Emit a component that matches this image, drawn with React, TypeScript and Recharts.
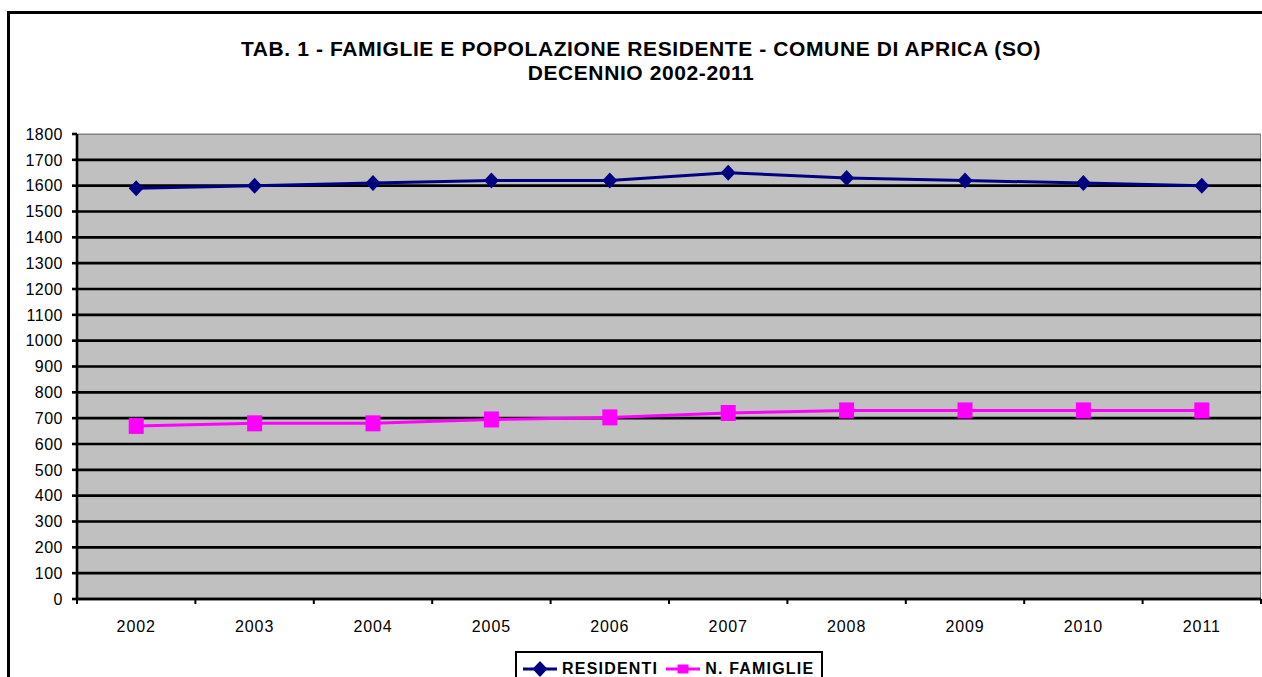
import { LineChart, Line, XAxis, YAxis, CartesianGrid } from "recharts";

// Data
const years = ["2002", "2003", "2004", "2005", "2006", "2007", "2008", "2009", "2010", "2011"];
const residenti = [1590, 1600, 1610, 1620, 1620, 1650, 1630, 1620, 1610, 1600];
const famiglie = [670, 680, 680, 695, 703, 720, 730, 730, 730, 730];
const yTicks = [0, 100, 200, 300, 400, 500, 600, 700, 800, 900, 1000, 1100, 1200, 1300, 1400, 1500, 1600, 1700, 1800];

const titleLines = [
  "TAB. 1 - FAMIGLIE E POPOLAZIONE RESIDENTE - COMUNE DI APRICA (SO)",
  "DECENNIO 2002-2011",
];

const series = [
  { key: "residenti", name: "RESIDENTI", color: "#000080", width: 3, marker: "diamond" },
  { key: "famiglie", name: "N. FAMIGLIE", color: "#FF00FF", width: 3, marker: "square" },
];

const data = years.map((year, i) => ({
  year,
  residenti: residenti[i],
  famiglie: famiglie[i],
}));

// layout
const CHART_W = 1262;
const CHART_H = 677;
const PLOT_LEFT = 77;
const PLOT_RIGHT = 1261;
const PLOT_TOP = 134;
const PLOT_BOTTOM = 599;
const BAND_W = (PLOT_RIGHT - PLOT_LEFT) / years.length;
const FONT = "'Liberation Sans', Arial, sans-serif";

const Diamond = (props: any) => {
  const { cx, cy, fill } = props;
  if (cx == null || cy == null) return null;
  return (
    <path
      d={`M${cx},${cy - 8} L${cx + 7.5},${cy} L${cx},${cy + 8} L${cx - 7.5},${cy} Z`}
      fill={fill}
    />
  );
};

const Square = (props: any) => {
  const { cx, cy, fill } = props;
  if (cx == null || cy == null) return null;
  return <rect x={cx - 7.5} y={cy - 8} width={15} height={16} fill={fill} />;
};

const XTick = (props: any) => {
  const { x, payload, index } = props;
  const half = BAND_W / 2;
  return (
    <g>
      <line x1={x - half} x2={x - half} y1={PLOT_BOTTOM} y2={PLOT_BOTTOM + 5} stroke="#000" strokeWidth={2} />
      {index === years.length - 1 && (
        <line x1={x + half} x2={x + half} y1={PLOT_BOTTOM} y2={PLOT_BOTTOM + 5} stroke="#000" strokeWidth={2} />
      )}
      <text
        x={x}
        y={632}
        textAnchor="middle"
        fill="#000"
        fontSize={16}
        fontFamily={FONT}
        letterSpacing={0.9}
      >
        {payload.value}
      </text>
    </g>
  );
};

const gridLine = (p: any) => {
  const top = p.y1 <= PLOT_TOP + 1;
  return (
    <line
      key={p.key}
      x1={p.x1}
      x2={p.x2}
      y1={p.y1}
      y2={p.y2}
      stroke={top ? "#808080" : "#000"}
      strokeWidth={top ? 1 : 2.6}
    />
  );
};

function LegendIcon({ color, marker }: { color: string; marker: string }) {
  return (
    <svg width={34} height={16} style={{ display: "block" }}>
      <line x1={0} x2={34} y1={8} y2={8} stroke={color} strokeWidth={3} />
      {marker === "diamond" ? (
        <path d="M17,0 L24.5,8 L17,16 L9.5,8 Z" fill={color} />
      ) : (
        <rect x={11.5} y={3.5} width={11} height={9} fill={color} />
      )}
    </svg>
  );
}

export default function App() {
  return (
    <div style={{ position: "absolute", left: 0, top: 0, width: CHART_W, height: CHART_H, overflow: "hidden", background: "#fff" }}>
      {/* outer frame */}
      <div
        style={{
          position: "absolute",
          left: 7,
          top: 11,
          width: 1300,
          height: 700,
          border: "3px solid #000",
          boxSizing: "border-box",
        }}
      />
      {/* title */}
      <div
        style={{
          position: "absolute",
          left: 0,
          top: 37,
          width: 1282,
          textAlign: "center",
          fontFamily: FONT,
          fontWeight: "bold",
          fontSize: 21,
          letterSpacing: 0.6,
          lineHeight: "24px",
          color: "#000",
        }}
      >
        {titleLines.map((t) => (
          <div key={t}>{t}</div>
        ))}
      </div>
      {/* plot background */}
      <div
        style={{
          position: "absolute",
          left: PLOT_LEFT,
          top: PLOT_TOP,
          width: PLOT_RIGHT - PLOT_LEFT,
          height: PLOT_BOTTOM - PLOT_TOP,
          background: "#C0C0C0",
          borderTop: "1px solid #808080",
          borderRight: "1px solid #808080",
          boxSizing: "border-box",
        }}
      />
      <div style={{ position: "absolute", left: 0, top: 0 }}>
        <LineChart
          width={CHART_W}
          height={CHART_H}
          data={data}
          margin={{ top: PLOT_TOP, right: CHART_W - PLOT_RIGHT, left: 0, bottom: CHART_H - PLOT_BOTTOM - 30 }}
        >
          <CartesianGrid vertical={false} horizontal={gridLine} stroke="#000" strokeWidth={2} />
          <XAxis
            dataKey="year"
            scale="band"
            interval={0}
            height={30}
            tickLine={false}
            axisLine={{ stroke: "#000", strokeWidth: 2.6 }}
            tick={<XTick />}
          />
          <YAxis
            width={PLOT_LEFT}
            domain={[0, 1800]}
            ticks={yTicks}
            interval={0}
            tickSize={5}
            tickMargin={9}
            axisLine={{ stroke: "#000", strokeWidth: 2.6 }}
            tickLine={{ stroke: "#000", strokeWidth: 2.6 }}
            tick={{ fill: "#000", fontSize: 16, fontFamily: FONT, letterSpacing: 0.5 }}
          />
          {series.map((s) => (
            <Line
              key={s.key}
              dataKey={s.key}
              name={s.name}
              type="linear"
              stroke={s.color}
              strokeWidth={s.width}
              fill={s.color}
              dot={s.marker === "diamond" ? <Diamond fill={s.color} /> : <Square fill={s.color} />}
              activeDot={false}
              isAnimationActive={false}
            />
          ))}
        </LineChart>
      </div>
      {/* legend */}
      <div
        style={{
          position: "absolute",
          left: 515,
          top: 651,
          width: 308,
          height: 40,
          border: "2px solid #000",
          boxSizing: "border-box",
          background: "#fff",
          display: "flex",
          alignItems: "flex-start",
          paddingTop: 7,
          paddingLeft: 6,
          gap: 8,
          fontFamily: FONT,
          fontWeight: "bold",
          fontSize: 16,
          letterSpacing: 1.2,
        }}
      >
        {series.map((s) => (
          <div key={s.key} style={{ display: "flex", alignItems: "center", gap: 5, lineHeight: "18px" }}>
            <LegendIcon color={s.color} marker={s.marker} />
            <span>{s.name}</span>
          </div>
        ))}
      </div>
    </div>
  );
}
